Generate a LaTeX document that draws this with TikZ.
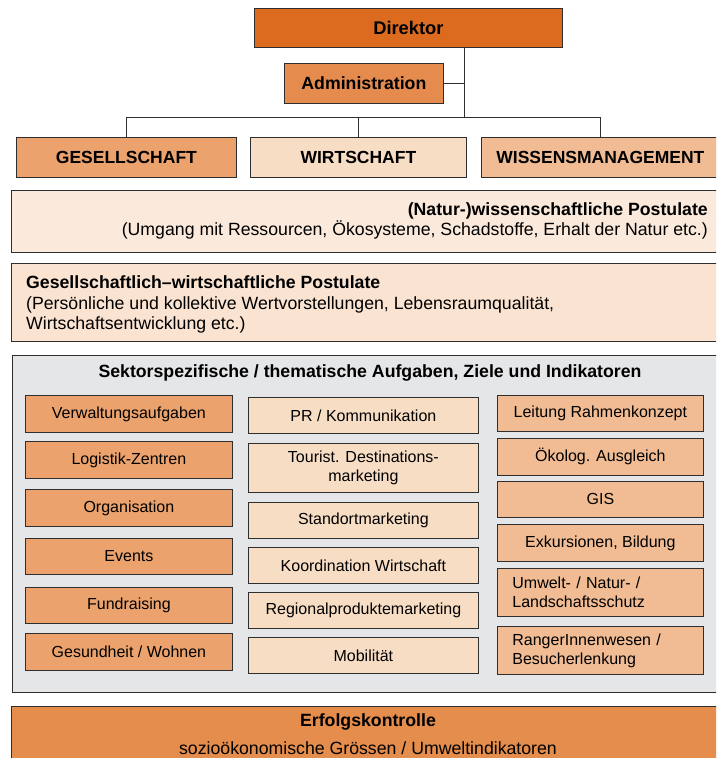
\documentclass[tikz,border=0pt]{standalone}
\usepackage{fontspec}
\setmainfont{Liberation Sans}
\definecolor{lineC}{HTML}{2E2E2E}
\definecolor{dirC}{HTML}{DC6B1F}
\definecolor{admC}{HTML}{E58B4E}
\definecolor{colA}{HTML}{EBA26D}
\definecolor{colB}{HTML}{F8DDC5}
\definecolor{colC}{HTML}{F1BC94}
\definecolor{natC}{HTML}{FBEADC}
\definecolor{gesC}{HTML}{FAE3D1}
\definecolor{grayC}{HTML}{E5E6E8}
\definecolor{erfC}{HTML}{E58D4C}
\tikzset{
  bx/.style={draw=lineC, line width=0.8pt, inner sep=0pt, anchor=north west, align=center, text=black},
  head/.style={bx, font=\fontsize{17.7}{21}\selectfont\bfseries},
  item/.style={bx, font=\fontsize{16}{19}\selectfont},
  c1/.style={item, fill=colA, minimum width=207pt},
  c2/.style={item, fill=colB, minimum width=230pt},
  c3/.style={item, fill=colC, minimum width=206pt},
  c3l/.style={c3, align=left, inner xsep=15pt, text width=176pt},
  conn/.style={draw=lineC, line width=0.8pt},
  body/.style={font=\fontsize{17.7}{20.5}\selectfont, inner sep=0pt, text=black},
}
\begin{document}
\begin{tikzpicture}[x=1pt, y=-1pt]
\useasboundingbox (0,0) rectangle (716,758);
\clip (0,0) rectangle (716,758);
\fill[white] (0,0) rectangle (716,758);

% top hierarchy
\node[head, fill=dirC, minimum width=308pt, minimum height=39pt, font=\fontsize{18.3}{21}\selectfont\bfseries] (dir) at (254,8) {Direktor};
\node[head, fill=admC, minimum width=159pt, minimum height=40pt] (adm) at (284,63) {Administration};
\node[head, fill=colA, minimum width=220pt, minimum height=40pt, font=\fontsize{17.5}{21}\selectfont\bfseries] (ges) at (16,137) {GESELLSCHAFT};
\node[head, fill=colB, minimum width=216pt, minimum height=40pt, font=\fontsize{17.5}{21}\selectfont\bfseries] (wir) at (250,137) {WIRTSCHAFT};
\node[head, fill=colC, minimum width=238pt, minimum height=40pt, font=\fontsize{17.5}{21}\selectfont\bfseries] (wis) at (481,137) {WISSENSMANAGEMENT};
\coordinate (trunk) at (464,117);
\draw[conn] (dir.south -| trunk) -- (trunk);
\draw[conn] (adm.east) -- (adm.east -| trunk);
\draw[conn] (ges.north) -- (ges.north |- trunk) -- (wis.north |- trunk) -- (wis.north);
\draw[conn] (wir.north) -- (wir.north |- trunk);

% postulate boxes
\node[bx, fill=natC, minimum width=719pt, minimum height=62pt] (nat) at (11,190) {};
\node[body, anchor=east, align=right] (natT) at (708,221)
  {\textbf{(Natur-)wissenschaftliche Postulate}\\(Umgang mit Ressourcen, Ökosysteme, Schadstoffe, Erhalt der Natur etc.)};
\node[bx, fill=gesC, minimum width=719pt, minimum height=78pt] (gwp) at (11,263) {};
\node[body, anchor=west, align=left] (gwpT) at (26,304.5)
  {\textbf{Gesellschaftlich–wirtschaftliche Postulate}\\(Persönliche und kollektive Wertvorstellungen, Lebensraumqualität,\\Wirtschaftsentwicklung etc.)};

% sector box
\node[bx, fill=grayC, minimum width=718pt, minimum height=337pt] (sek) at (12,355) {};
\node[body, font=\fontsize{17.7}{20}\selectfont\bfseries] (sekT) at (370,373)
  {Sektorspezifische / thematische Aufgaben, Ziele und Indikatoren};

% column 1
\node[c1, minimum height=37pt] (a1) at (25,395) {Verwaltungsaufgaben};
\node[c1, minimum height=37pt] (a2) at (25,441) {Logistik-Zentren};
\node[c1, minimum height=37pt] (a3) at (25,489) {Organisation};
\node[c1, minimum height=36pt] (a4) at (25,538) {Events};
\node[c1, minimum height=36pt] (a5) at (25,587) {Fundraising};
\node[c1, minimum height=37pt] (a6) at (25,633) {Gesundheit / Wohnen};

% column 2
\node[c2, minimum height=36pt] (b1) at (248,397) {PR / Kommunikation};
\node[c2, minimum height=49pt] (b2) at (248,443) {Tourist. Destinations-\\marketing};
\node[c2, minimum height=36pt] (b3) at (248,502) {Standortmarketing};
\node[c2, minimum height=36pt] (b4) at (248,547) {Koordination Wirtschaft};
\node[c2, minimum height=36pt] (b5) at (248,592) {Regionalproduktemarketing};
\node[c2, minimum height=36pt] (b6) at (248,637) {Mobilität};

% column 3
\node[c3, minimum height=36pt] (d1) at (497,395) {Leitung Rahmenkonzept};
\node[c3, minimum height=37pt] (d2) at (497,438) {Ökolog. Ausgleich};
\node[c3, minimum height=36pt] (d3) at (497,481) {GIS};
\node[c3, minimum height=37pt] (d4) at (497,524) {Exkursionen, Bildung};
\node[c3l, minimum height=48pt] (d5) at (497,568) {Umwelt- / Natur- /\\Landschaftsschutz};
\node[c3l, minimum height=48pt] (d6) at (497,626) {RangerInnenwesen /\\Besucherlenkung};

% bottom
\node[bx, fill=erfC, minimum width=719pt, minimum height=70pt] (erf) at (11,706) {};
\node[body, font=\fontsize{17.7}{20}\selectfont\bfseries] (erfT) at (368,722) {Erfolgskontrolle};
\node[body] (erfS) at (368,748) {sozioökonomische Grössen / Umweltindikatoren};
\end{tikzpicture}
\end{document}
